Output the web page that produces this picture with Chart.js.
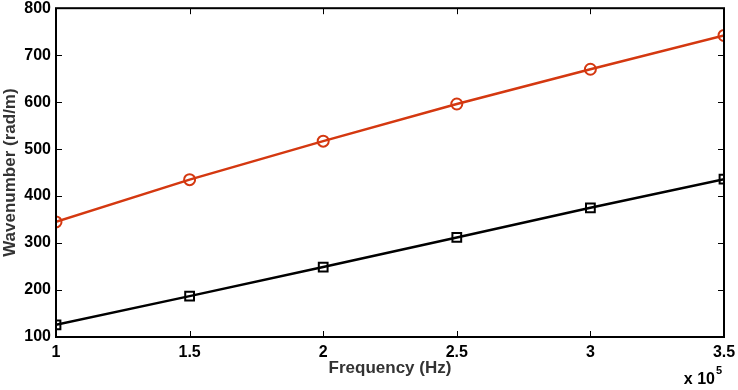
<!DOCTYPE html>
<html>
<head>
<meta charset="utf-8">
<script src="https://cdn.jsdelivr.net/npm/chart.js@4"></script>
<style>
  html, body { margin: 0; padding: 0; background: #fff; }
  #wrap { width: 738px; height: 390px; }
</style>
</head>
<body>
<div id="wrap"><canvas id="waveChart"></canvas></div>
<script>
// frequency in units of 1e5 Hz
const freq = [1, 1.5, 2, 2.5, 3, 3.5];
const waveRed = [345, 435, 517, 596, 670, 742];
const waveBlack = [126, 187, 249, 312, 375, 436];
const yTicks = [100, 200, 300, 400, 500, 600, 700, 800];
const xTicks = [1, 1.5, 2, 2.5, 3, 3.5];

const redColor = "rgb(212,56,16)";
const tickFont = { family: "Liberation Sans", size: 16, weight: "bold", lineHeight: 1 };
const titleFont = { family: "Liberation Sans", size: 17, weight: "bold", lineHeight: 1.1 };

// box frame + inward tick marks, plus the "x 10^5" multiplier
const framePlugin = {
  id: "frame",
  afterDraw(chart) {
    const ctx = chart.ctx;
    const a = chart.chartArea;
    const xs = chart.scales.x, ys = chart.scales.y;
    ctx.save();
    ctx.strokeStyle = "#000";
    ctx.lineWidth = 1;
    ctx.beginPath();
    xTicks.forEach(v => {
      const px = Math.round(xs.getPixelForValue(v)) + 0.5;
      ctx.moveTo(px, a.bottom); ctx.lineTo(px, a.bottom - 6);
      ctx.moveTo(px, a.top); ctx.lineTo(px, a.top + 6);
    });
    yTicks.forEach(v => {
      const py = Math.round(ys.getPixelForValue(v)) + 0.5;
      ctx.moveTo(a.left, py); ctx.lineTo(a.left + 6, py);
      ctx.moveTo(a.right, py); ctx.lineTo(a.right - 6, py);
    });
    ctx.stroke();
    ctx.lineWidth = 2;
    ctx.strokeRect(a.left, a.top, a.right - a.left, a.bottom - a.top);

    ctx.fillStyle = "#000";
    ctx.font = "bold 16px 'Liberation Sans'";
    ctx.textAlign = "right";
    ctx.textBaseline = "alphabetic";
    ctx.fillText("x 10", a.right - 9, 384);
    ctx.font = "bold 11px 'Liberation Sans'";
    ctx.textAlign = "left";
    ctx.fillText("5", a.right - 8, 374);
    ctx.restore();
  }
};

new Chart("waveChart", {
  type: "line",
  data: {
    datasets: [
      {
        label: "red",
        data: freq.map((f, i) => ({ x: f, y: waveRed[i] })),
        borderColor: redColor,
        backgroundColor: "rgba(0,0,0,0)",
        borderWidth: 2.5,
        pointStyle: "circle",
        pointRadius: 5.5,
        pointBorderWidth: 2,
        pointBorderColor: redColor,
        pointBackgroundColor: "rgba(0,0,0,0)",
        tension: 0
      },
      {
        label: "black",
        data: freq.map((f, i) => ({ x: f, y: waveBlack[i] })),
        borderColor: "#000",
        backgroundColor: "rgba(0,0,0,0)",
        borderWidth: 2.5,
        pointStyle: "rect",
        pointRadius: 6.2,
        pointBorderWidth: 2,
        pointBorderColor: "#000",
        pointBackgroundColor: "rgba(0,0,0,0)",
        tension: 0
      }
    ]
  },
  options: {
    responsive: true,
    maintainAspectRatio: false,
    animation: false,
    layout: { padding: { left: 0, right: 14, top: 8, bottom: 0 } },
    plugins: {
      legend: { display: false },
      tooltip: { enabled: false }
    },
    scales: {
      x: {
        type: "linear",
        min: 1,
        max: 3.5,
        grid: { display: false, drawTicks: false },
        border: { display: false },
        afterBuildTicks: s => { s.ticks = xTicks.map(v => ({ value: v })); },
        afterFit: s => { s.height = 53; s.paddingLeft = 0; s.paddingRight = 0; },
        ticks: {
          font: tickFont,
          color: "#000",
          padding: 8,
          maxRotation: 0,
          callback: v => String(v)
        },
        title: {
          display: true,
          text: "Frequency (Hz)",
          color: "#333",
          font: titleFont,
          padding: { top: 0, bottom: 12 }
        }
      },
      y: {
        min: 100,
        max: 800,
        grid: { display: false, drawTicks: false },
        border: { display: false },
        afterBuildTicks: s => { s.ticks = yTicks.map(v => ({ value: v })); },
        afterFit: s => { s.width = 56; s.paddingTop = 0; s.paddingBottom = 0; },
        ticks: {
          font: tickFont,
          color: "#000",
          padding: 5
        },
        title: {
          display: true,
          text: "Wavenumber (rad/m)",
          color: "#333",
          font: titleFont,
          padding: { top: 1, bottom: 0 }
        }
      }
    }
  },
  plugins: [framePlugin]
});
</script>
</body>
</html>
